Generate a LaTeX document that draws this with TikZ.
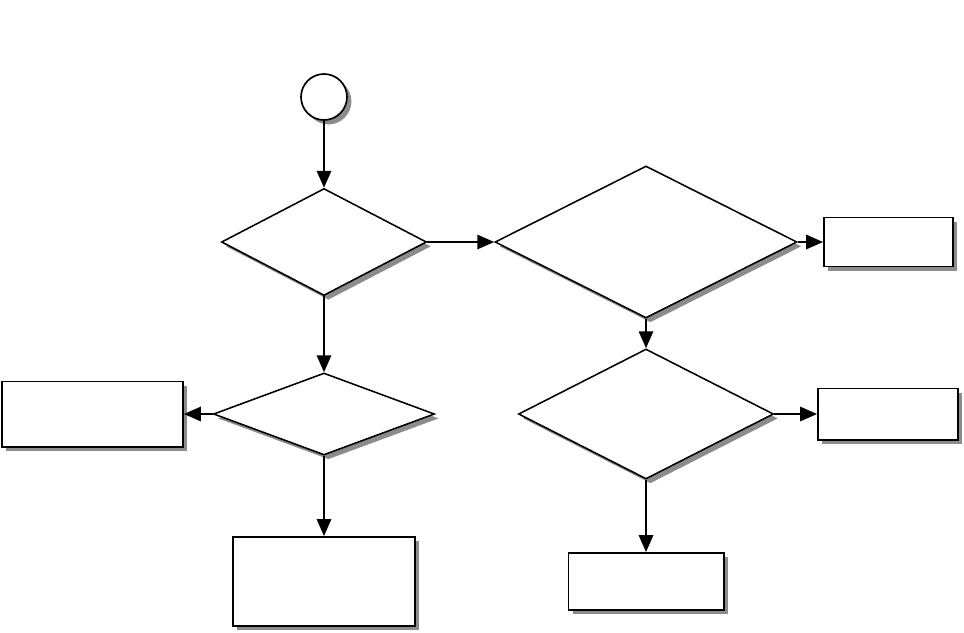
\documentclass[tikz,border=0pt]{standalone}
\usepackage{tikz}
\usetikzlibrary{arrows.meta,shapes.geometric,shadows}
\definecolor{shade}{gray}{0.55}

\begin{document}
\begin{tikzpicture}[x=0.025cm, y=-0.025cm,
  shad/.style={drop shadow={shadow xshift=0.11cm,shadow yshift=-0.11cm,fill=shade,opacity=1}},
  box/.style={draw,line width=1.4pt,fill=white,inner sep=0pt,shad},
  test/.style={draw,diamond,line width=1.1pt,fill=white,inner sep=0pt,shad},
  flow/.style={line width=1.1pt,-{Triangle[length=0.42cm,width=0.36cm]}},
]
  \useasboundingbox (0,0) rectangle (964,632);

  \node[draw,circle,line width=1.2pt,fill=white,minimum size=1.15cm,inner sep=0pt,shad] (start) at (324,97) {};

  \node[test,minimum width=5.125cm,minimum height=2.675cm] (q1) at (324,242) {};
  \node[test,minimum width=7.55cm,minimum height=3.8cm] (q2) at (646,242) {};
  \node[test,minimum width=6.375cm,minimum height=3.25cm] (q3) at (646,414) {};
  \node[test,minimum width=5.525cm,minimum height=2.05cm] (q4) at (324,414) {};

  \node[box,minimum width=3.225cm,minimum height=1.225cm] (r1) at (888.5,242) {};
  \node[box,minimum width=3.5cm,minimum height=1.275cm] (r2) at (888,414) {};
  \node[box,minimum width=3.875cm,minimum height=1.425cm] (b2) at (646,581.5) {};
  \node[box,minimum width=4.55cm,minimum height=2.225cm] (b1) at (324,581.5) {};
  \node[box,minimum width=4.525cm,minimum height=1.625cm] (l1) at (92.5,414) {};

  \draw[flow] (start) -- (q1);
  \draw[flow] (q1) -- (q2);
  \draw[flow] (q2) -- (r1);
  \draw[flow] (q2) -- (q3);
  \draw[flow] (q3) -- (r2);
  \draw[flow] (q3) -- (b2);
  \draw[flow] (q1) -- (q4);
  \draw[flow] (q4) -- (l1);
  \draw[flow] (q4) -- (b1);
\end{tikzpicture}
\end{document}
